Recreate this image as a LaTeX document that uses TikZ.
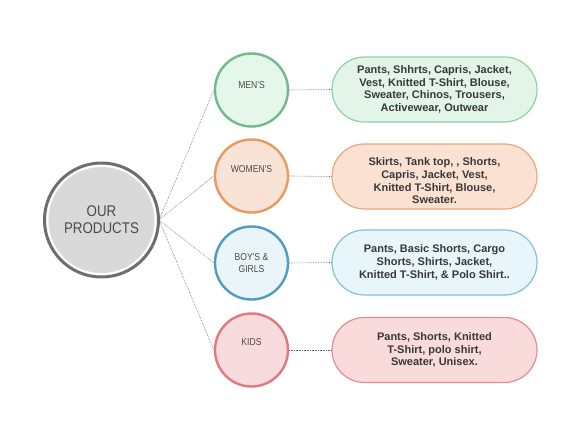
\documentclass[tikz,border=0pt]{standalone}
\usepackage{fontspec}
\setmainfont{Liberation Sans}
\newfontfamily\condfont[FakeStretch=0.86]{Liberation Sans}
\newfontfamily\pillfont{Liberation Sans}
\usetikzlibrary{shapes.misc}
\definecolor{mainring}{HTML}{6E6E6E}
\definecolor{mainfill}{HTML}{D9D9D9}
\definecolor{labgray}{HTML}{4A4A4A}
\definecolor{pilltext}{HTML}{383838}
\definecolor{gline}{HTML}{72B98C}\definecolor{gfill}{HTML}{E4F7EA}
\definecolor{gpline}{HTML}{8FD1A6}\definecolor{gpfill}{HTML}{E3F5E9}
\definecolor{oline}{HTML}{E99A5E}\definecolor{ofill}{HTML}{F9E2D6}
\definecolor{opline}{HTML}{EDA57A}\definecolor{opfill}{HTML}{FBE1D2}
\definecolor{bline}{HTML}{4E9CC2}\definecolor{bfill}{HTML}{EAF5FA}
\definecolor{bpline}{HTML}{86BFD8}\definecolor{bpfill}{HTML}{E8F5FB}
\definecolor{rline}{HTML}{DE7A80}\definecolor{rfill}{HTML}{F8DCDD}
\definecolor{rpline}{HTML}{E68C90}\definecolor{rpfill}{HTML}{F9DBDB}
\tikzset{
  cat/.style={circle, minimum size=73pt, inner sep=0pt, line width=2.4pt,
    font=\condfont\fontsize{10}{12}\selectfont, text=labgray, align=center},
  catlabel/.style={font=\condfont\fontsize{10}{12.5}\selectfont, text=labgray, align=center},
  pilltxt/.style={align=center, text=pilltext,
    font=\pillfont\bfseries\fontsize{11}{12.7}\selectfont},
  pill/.style={rounded rectangle, minimum width=205pt, minimum height=65pt,
    inner sep=0pt, line width=1.2pt, pilltxt},
  link/.style={densely dotted, line width=0.6pt, draw=black!60}
}
\begin{document}
\begin{tikzpicture}[x=1pt,y=-1pt]
\useasboundingbox[fill=white] (0,0) rectangle (587,440);
% main circle
\node[circle, minimum size=114pt, inner sep=0pt, draw=mainring, line width=3pt,
  fill=white] (main) at (101.5,220) {};
\node[circle, minimum size=106pt, inner sep=0pt, fill=mainfill,
  font=\condfont\fontsize{15.5}{17}\selectfont, text=labgray, align=center]
  (maintext) at (101.5,220) {OUR\\PRODUCTS};
\coordinate (hub) at (159,220);
% categories
\node[cat, draw=gline, fill=gfill] (men) at (251.5,90) {};
\node[cat, draw=oline, fill=ofill] (women) at (251.5,176) {};
\node[cat, draw=bline, fill=bfill] (boys) at (251.5,263) {};
\node[cat, draw=rline, fill=rfill] (kids) at (251.5,350) {};
\node[catlabel] (menl) at (251.5,85) {MEN'S};
\node[catlabel] (womenl) at (251.5,169.5) {WOMEN'S};
\node[catlabel] (boysl) at (251.5,263) {BOY'S \&\\GIRLS};
\node[catlabel] (kidsl) at (251.5,342.5) {KIDS};
% pills
\node[pill, draw=gpline, fill=gpfill] (menp) at (434.5,89.5)
  {Pants, Shhrts, Capris, Jacket,\\Vest, Knitted T-Shirt, Blouse,\\Sweater, Chinos, Trousers,\\Activewear, Outwear};
\node[pill, draw=opline, fill=opfill] (womenp) at (434.5,176.5) {};
\node[pilltxt] (womenpt) at (434.5,181)
  {Skirts, Tank top, , Shorts,\\Capris, Jacket, Vest,\\Knitted T-Shirt, Blouse,\\Sweater.};
\node[pill, draw=bpline, fill=bpfill] (boysp) at (434.5,262.5)
  {Pants, Basic Shorts, Cargo\\Shorts, Shirts, Jacket,\\Knitted T-Shirt, \& Polo Shirt..};
\node[pill, draw=rpline, fill=rpfill] (kidsp) at (434.5,350)
  {Pants, Shorts, Knitted\\T-Shirt, polo shirt,\\Sweater, Unisex.};
% connectors
\foreach \c in {men,women,boys,kids}{
  \draw[link] (hub) -- (\c.west);
  \draw[link] (\c.east) -- (\c p.west);
}
\end{tikzpicture}
\end{document}
